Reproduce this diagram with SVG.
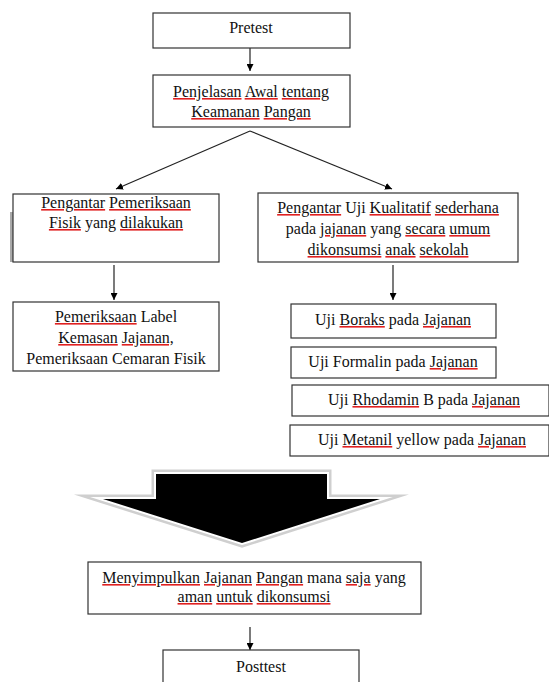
<svg xmlns="http://www.w3.org/2000/svg" width="549" height="682" viewBox="0 0 549 682">
<style>
.box{fill:#fff;stroke:#333;stroke-width:1.2}
.t{font-family:"Liberation Serif","Times New Roman",serif;font-size:16px;fill:#111;text-anchor:middle}
.sp{fill:#e02020;text-decoration:underline}
.g{fill:#111}
.c{stroke:#222;stroke-width:1.2;fill:none}
</style>
<defs>
<marker id="ah" viewBox="0 0 10 10" refX="10" refY="5" markerWidth="7" markerHeight="7" markerUnits="userSpaceOnUse" orient="auto">
<path d="M0,0 L10,5 L0,10 z" fill="#000"/>
</marker>
</defs>
<rect width="549" height="682" fill="#fff"/>
<g id="connectors">
<line class="c" x1="250" y1="48" x2="250" y2="71" marker-end="url(#ah)"/>
<line class="c" x1="250" y1="131" x2="116" y2="189" marker-end="url(#ah)"/>
<line class="c" x1="250" y1="131" x2="392" y2="189" marker-end="url(#ah)"/>
<line class="c" x1="114" y1="265" x2="114" y2="300" marker-end="url(#ah)"/>
<line class="c" x1="393" y1="265" x2="393" y2="300" marker-end="url(#ah)"/>
<line class="c" x1="250" y1="627" x2="250" y2="650" marker-end="url(#ah)"/>
</g>
<g id="pretest">
<rect class="box" x="153" y="13" width="197" height="35"/>
<text class="t" x="251" y="33">Pretest</text>
</g>
<g id="penjelasan">
<rect class="box" x="153" y="75" width="197" height="52"/>
<text class="t" x="251" y="97"><tspan class="sp"><tspan class="g">Penjelasan</tspan></tspan> <tspan class="sp"><tspan class="g">Awal</tspan></tspan> <tspan class="sp"><tspan class="g">tentang</tspan></tspan></text>
<text class="t" x="251" y="117"><tspan class="sp"><tspan class="g">Keamanan</tspan></tspan> <tspan class="sp"><tspan class="g">Pangan</tspan></tspan></text>
</g>
<g id="pengantar-fisik">
<rect x="10" y="212" width="3" height="50" fill="#aaa"/>
<rect class="box" x="13" y="194" width="206" height="68"/>
<text class="t" x="116" y="208"><tspan class="sp"><tspan class="g">Pengantar</tspan></tspan> <tspan class="sp"><tspan class="g">Pemeriksaan</tspan></tspan></text>
<text class="t" x="116" y="228"><tspan class="sp"><tspan class="g">Fisik</tspan></tspan> yang <tspan class="sp"><tspan class="g">dilakukan</tspan></tspan></text>
</g>
<g id="pengantar-uji">
<rect class="box" x="258" y="193" width="260" height="69"/>
<text class="t" x="388" y="213"><tspan class="sp"><tspan class="g">Pengantar</tspan></tspan> Uji <tspan class="sp"><tspan class="g">Kualitatif</tspan></tspan> <tspan class="sp"><tspan class="g">sederhana</tspan></tspan></text>
<text class="t" x="388" y="234">pada <tspan class="sp"><tspan class="g">jajanan</tspan></tspan> yang <tspan class="sp"><tspan class="g">secara</tspan></tspan> <tspan class="sp"><tspan class="g">umum</tspan></tspan></text>
<text class="t" x="388" y="255"><tspan class="sp"><tspan class="g">dikonsumsi</tspan></tspan> <tspan class="sp"><tspan class="g">anak</tspan></tspan> <tspan class="sp"><tspan class="g">sekolah</tspan></tspan></text>
</g>
<g id="pemeriksaan-label">
<rect class="box" x="13" y="302" width="206" height="69"/>
<text class="t" x="116" y="322"><tspan class="sp"><tspan class="g">Pemeriksaan</tspan></tspan> Label</text>
<text class="t" x="116" y="343"><tspan class="sp"><tspan class="g">Kemasan</tspan></tspan> <tspan class="sp"><tspan class="g">Jajanan,</tspan></tspan></text>
<text class="t" x="116" y="364">Pemeriksaan Cemaran Fisik</text>
</g>
<g id="uji-boraks">
<rect class="box" x="291" y="304" width="205" height="34"/>
<text class="t" x="393" y="325">Uji <tspan class="sp"><tspan class="g">Boraks</tspan></tspan> pada <tspan class="sp"><tspan class="g">Jajanan</tspan></tspan></text>
</g>
<g id="uji-formalin">
<rect class="box" x="291" y="347" width="205" height="31"/>
<text class="t" x="393" y="367">Uji Formalin pada <tspan class="sp"><tspan class="g">Jajanan</tspan></tspan></text>
</g>
<g id="uji-rhodamin">
<rect class="box" x="292" y="385" width="257" height="31"/>
<text class="t" x="424" y="405">Uji <tspan class="sp"><tspan class="g">Rhodamin</tspan></tspan> B pada <tspan class="sp"><tspan class="g">Jajanan</tspan></tspan></text>
</g>
<g id="uji-metanil">
<rect class="box" x="290" y="425" width="259" height="31"/>
<text class="t" x="422" y="445">Uji <tspan class="sp"><tspan class="g">Metanil</tspan></tspan> yellow pada <tspan class="sp"><tspan class="g">Jajanan</tspan></tspan></text>
</g>
<g id="big-arrow">
<polygon points="156,474 327,474 327,499 380,499 242,543 103,499 156,499" fill="none" stroke="#cfcfcf" stroke-width="9" stroke-linejoin="miter" stroke-miterlimit="12"/>
<polygon points="156,474 327,474 327,499 380,499 242,543 103,499 156,499" fill="none" stroke="#fff" stroke-width="4" stroke-linejoin="miter" stroke-miterlimit="12"/>
<polygon points="156,474 327,474 327,499 380,499 242,543 103,499 156,499" fill="#000"/>
</g>
<g id="menyimpulkan">
<rect class="box" x="88" y="562" width="333" height="52"/>
<text class="t" x="254" y="583"><tspan class="sp"><tspan class="g">Menyimpulkan</tspan></tspan> <tspan class="sp"><tspan class="g">Jajanan</tspan></tspan> <tspan class="sp"><tspan class="g">Pangan</tspan></tspan> mana <tspan class="sp"><tspan class="g">saja</tspan></tspan> yang</text>
<text class="t" x="254" y="602"><tspan class="sp"><tspan class="g">aman</tspan></tspan> <tspan class="sp"><tspan class="g">untuk</tspan></tspan> <tspan class="sp"><tspan class="g">dikonsumsi</tspan></tspan></text>
</g>
<g id="posttest">
<rect class="box" x="163" y="650" width="196" height="40"/>
<text class="t" x="261" y="672">Posttest</text>
</g>
</svg>
